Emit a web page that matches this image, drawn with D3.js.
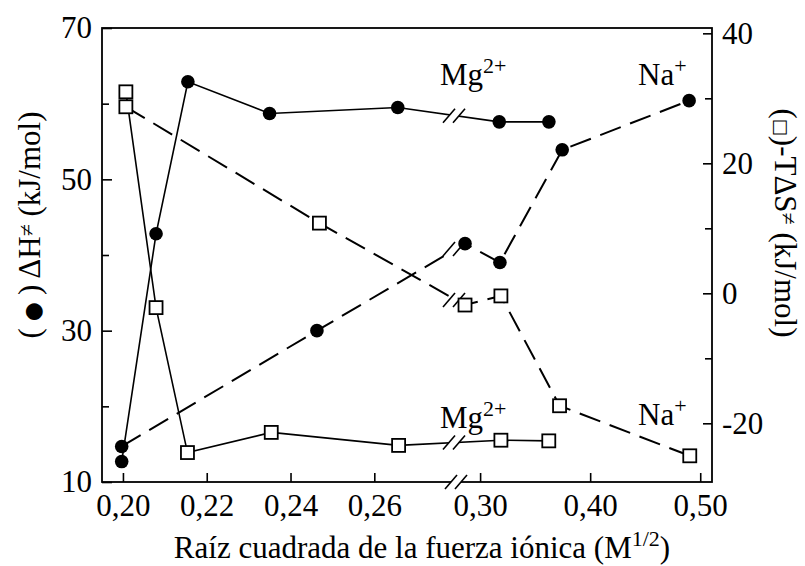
<!DOCTYPE html>
<html>
<head>
<meta charset="utf-8">
<script src="https://cdn.jsdelivr.net/npm/d3@7"></script>
<style>
  body { margin: 0; background: #fff; }
  svg { display: block; }
  text { font-family: "Liberation Serif", "Times New Roman", "DejaVu Serif", serif; fill: #000; }
</style>
</head>
<body>
<svg id="chart" width="805" height="566"></svg>
<script>
// Square root of ionic strength (M^1/2) for each measured point
const mgEnthalpyX = [0.1997, 0.2079, 0.2155, 0.2350, 0.2656, 0.3174, 0.3625];
const mgEntropyX  = [0.2007, 0.2079, 0.2154, 0.2354, 0.2658, 0.3189, 0.3624];
const naEnthalpyX = [0.1997, 0.2463, 0.2863, 0.3180, 0.3746, 0.4899];
const naEntropyX  = [0.2007, 0.2469, 0.2863, 0.3189, 0.3722, 0.4905];

// Activation enthalpy ΔH≠ (kJ/mol, left axis)
const mgEnthalpy = [12.7, 42.8, 62.9, 58.7, 59.5, 57.6, 57.6];
const naEnthalpy = [14.7, 30.0, 41.5, 39.0, 53.9, 60.4];

// Entropic term -TΔS≠ (kJ/mol, right axis)
const mgEntropy = [31.0, -2.2, -24.5, -21.4, -23.4, -22.6, -22.7];
const naEntropy = [28.7, 10.8, -1.8, -0.4, -17.3, -25.0];

// Axis ticks
const xTicksLow  = [0.20, 0.22, 0.24, 0.26];
const xTicksHigh = [0.30, 0.40, 0.50];
const leftTicks  = [10, 30, 50, 70];
const leftMinor  = [20, 40, 60];
const rightTicks = [40, 20, 0, -20];
const rightMinor = [30, 10, -10];

const svg = d3.select("#chart");
const L = 102, R = 712, T = 28, B = 482;
const breakPx = 456;   // where the x axis is interrupted
const split = 0.279;   // values below go to the low segment
const SERIF = "Liberation Serif, Times New Roman, DejaVu Serif, serif";

// Broken x axis: two linear segments sharing the break position
const xLow  = d3.scaleLinear().domain([0.195, 0.2795]).range([L, breakPx]);
const xHigh = d3.scaleLinear().domain([0.2781, 0.5107]).range([breakPx, R]);
const x = v => (v < split ? xLow(v) : xHigh(v));

const yLeft  = d3.scaleLinear().domain([10, 70]).range([B, T]);
const yRight = d3.scaleLinear().domain([-29.03, 40.82]).range([B, T]);

const fmtX = d => d.toFixed(2).replace(".", ",");
const FS = 31, SUP = 22;

// ---- axes (ticks point inward) ----
function styleAxis(g) {
  g.attr("font-family", SERIF);
  g.select(".domain").remove();
  g.selectAll("line").attr("stroke", "#000").attr("stroke-width", 1.6);
  g.selectAll("text").attr("font-size", FS).attr("font-family", SERIF);
}

svg.append("g").attr("transform", `translate(0,${B})`)
  .call(d3.axisBottom(xLow).tickValues(xTicksLow).tickFormat(fmtX).tickSize(-9).tickPadding(12))
  .call(styleAxis);
svg.append("g").attr("transform", `translate(0,${B})`)
  .call(d3.axisBottom(xHigh).tickValues(xTicksHigh).tickFormat(fmtX).tickSize(-9).tickPadding(12))
  .call(styleAxis);

svg.append("g").attr("transform", `translate(${L},0)`)
  .call(d3.axisLeft(yLeft).tickValues(leftTicks).tickFormat(d3.format("d")).tickSize(-10).tickPadding(10))
  .call(styleAxis);
svg.append("g").attr("transform", `translate(${L},0)`)
  .call(d3.axisLeft(yLeft).tickValues(leftMinor).tickFormat("").tickSize(-7))
  .call(styleAxis);

svg.append("g").attr("transform", `translate(${R},0)`)
  .call(d3.axisRight(yRight).tickValues(rightTicks).tickFormat(d => String(d)).tickSize(-9).tickPadding(10))
  .call(styleAxis);
svg.append("g").attr("transform", `translate(${R},0)`)
  .call(d3.axisRight(yRight).tickValues(rightMinor).tickFormat("").tickSize(-7))
  .call(styleAxis);

// frame
svg.append("rect").attr("x", L).attr("y", T).attr("width", R - L).attr("height", B - T)
  .attr("fill", "none").attr("stroke", "#000").attr("stroke-width", 1.8);

// ---- series ----
const series = [
  { xs: mgEnthalpyX, ys: mgEnthalpy, y: yLeft,  dash: null,    marker: "circle" },
  { xs: naEnthalpyX, ys: naEnthalpy, y: yLeft,  dash: "22,10", marker: "circle" },
  { xs: mgEntropyX,  ys: mgEntropy,  y: yRight, dash: null,    marker: "square" },
  { xs: naEntropyX,  ys: naEntropy,  y: yRight, dash: "22,10", marker: "square" }
];

const line = d3.line().x(d => d[0]).y(d => d[1]);

function breakMark(g, bx, by) {
  const h = 7, w = 6, gap = 5;
  g.append("polygon")
    .attr("points", [[bx - gap - w, by + h], [bx - gap + w, by - h], [bx + gap + w, by - h], [bx + gap - w, by + h]].join(" "))
    .attr("fill", "#fff");
  [-gap, gap].forEach(o => {
    g.append("line")
      .attr("x1", bx + o - w).attr("y1", by + h)
      .attr("x2", bx + o + w).attr("y2", by - h)
      .attr("stroke", "#000").attr("stroke-width", 1.6);
  });
}

const linesG = svg.append("g");
const breaksG = svg.append("g");
const marksG = svg.append("g");

series.forEach(s => {
  const pts = s.xs.map((v, i) => [x(v), s.y(s.ys[i])]);
  linesG.append("path").datum(pts)
    .attr("d", line)
    .attr("fill", "none")
    .attr("stroke", "#000")
    .attr("stroke-width", s.dash ? 2 : 1.6)
    .attr("stroke-dasharray", s.dash);

  // interruption marks where the line crosses the axis break
  for (let i = 1; i < pts.length; i++) {
    const a = pts[i - 1], b = pts[i];
    if (a[0] < breakPx && b[0] > breakPx) {
      const t = (breakPx - a[0]) / (b[0] - a[0]);
      breakMark(breaksG, breakPx - 2, a[1] + t * (b[1] - a[1]));
    }
  }

  if (s.marker === "circle") {
    marksG.selectAll(null).data(pts).enter().append("circle")
      .attr("cx", d => d[0]).attr("cy", d => d[1]).attr("r", 6.8)
      .attr("fill", "#000");
  } else {
    const a = 13;
    marksG.selectAll(null).data(pts).enter().append("rect")
      .attr("x", d => d[0] - a / 2).attr("y", d => d[1] - a / 2)
      .attr("width", a).attr("height", a)
      .attr("fill", "#fff").attr("stroke", "#000").attr("stroke-width", 1.8);
  }
});

// break on the x axis
breakMark(breaksG, breakPx, B);

// ---- ion labels ----
function ionLabel(px, py, base, sup) {
  const t = svg.append("text").attr("x", px).attr("y", py).attr("font-size", FS);
  t.append("tspan").text(base);
  t.append("tspan").attr("font-size", SUP).attr("dy", -12).text(sup);
}
ionLabel(440, 85, "Mg", "2+");
ionLabel(638, 85, "Na", "+");
ionLabel(440, 428, "Mg", "2+");
ionLabel(638, 425, "Na", "+");

// ---- axis titles ----
const xt = svg.append("text").attr("x", 422).attr("y", 558)
  .attr("text-anchor", "middle").attr("font-size", FS);
xt.append("tspan").text("Raíz cuadrada de la fuerza iónica (M");
xt.append("tspan").attr("font-size", SUP).attr("dy", -12).text("1/2");
xt.append("tspan").attr("dy", 12).text(")");

const lt = svg.append("text")
  .attr("transform", "translate(40,225) rotate(-90)")
  .attr("text-anchor", "middle").attr("font-size", FS);
lt.append("tspan").text("(");
lt.append("tspan").attr("font-family", "DejaVu Sans").attr("font-size", 22).text(" ● ");
lt.append("tspan").text(") ΔH");
lt.append("tspan").attr("font-size", SUP).attr("dy", -6).text("≠");
lt.append("tspan").attr("dy", 6).text(" (kJ/mol)");

const rt = svg.append("text")
  .attr("transform", "translate(775,223) rotate(90)")
  .attr("text-anchor", "middle").attr("font-size", FS);
rt.append("tspan").text("(");
rt.append("tspan").attr("font-family", "DejaVu Sans").attr("font-size", 18).text("□");
rt.append("tspan").text(")-TΔS");
rt.append("tspan").attr("font-size", SUP).attr("dy", -6).text("≠");
rt.append("tspan").attr("dy", 6).text(" (kJ/mol)");
</script>
</body>
</html>
